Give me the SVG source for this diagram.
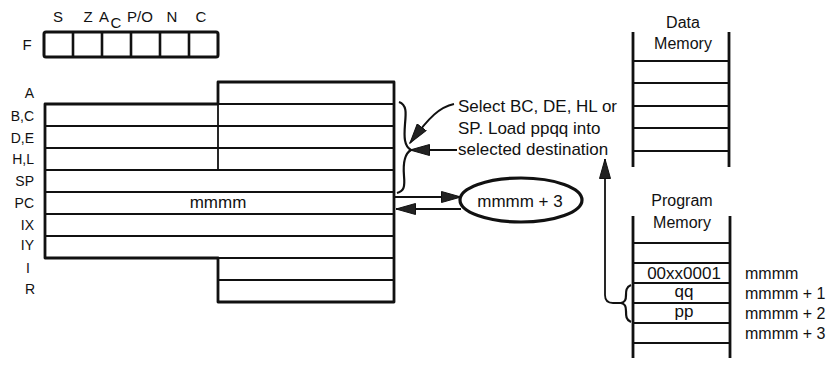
<svg xmlns="http://www.w3.org/2000/svg" width="834" height="369" viewBox="0 0 834 369">
<style>
text{font-family:"Liberation Sans",Arial,Helvetica,sans-serif;fill:#111;font-size:14px}
.r{text-anchor:end}
.m{text-anchor:middle}
.f{font-size:15px}
.mem{font-size:16px}
.big{font-size:17px}
.thick{fill:none;stroke:#111;stroke-width:2.8;stroke-linejoin:round}
.ln{fill:none;stroke:#111;stroke-width:1.8}
.brace{fill:none;stroke:#111;stroke-width:2.2}
.div{fill:none;stroke:#111;stroke-width:2.6}
</style>
<defs>
<marker id="ah" markerWidth="21" markerHeight="12" refX="20" refY="6" orient="auto" markerUnits="userSpaceOnUse">
<path d="M0.5,0.5 L20,6 L0.5,11.5 Z" fill="#222" stroke="#111" stroke-width="1"/>
</marker>
</defs>

<g id="flags">
<text x="58" y="22" class="m f">S</text>
<text x="88" y="22" class="m f">Z</text>
<text x="104" y="22" class="m f">A</text>
<text x="116" y="28" class="m f">C</text>
<text x="140" y="22" class="m f">P/O</text>
<text x="172" y="22" class="m f">N</text>
<text x="201" y="22" class="m f">C</text>
<text x="27" y="50" class="m f">F</text>
<rect x="44" y="32" width="174" height="25" rx="2" fill="#fff" stroke="#111" stroke-width="3"/>
<path class="div" d="M73,32 V57 M102,32 V57 M131,32 V57 M160,32 V57 M189,32 V57"/>
</g>

<g id="registers">
<path class="thick" d="M218,82 H394 V302 H218 V258 H45 V104 H218 Z"/>
<path class="ln" d="M218,82 V170 M45,126 H394 M45,148 H394 M45,170 H394 M45,192 H394 M45,214 H394 M45,236 H394 M218,258 H394 M218,280 H394 M218,104 H394"/>
<text x="34" y="98" class="r">A</text>
<text x="34" y="121" class="r">B,C</text>
<text x="34" y="143" class="r">D,E</text>
<text x="34" y="164" class="r">H,L</text>
<text x="34" y="186" class="r">SP</text>
<text x="34" y="208" class="r">PC</text>
<text x="34" y="230" class="r">IX</text>
<text x="34" y="250" class="r">IY</text>
<text x="28" y="273" class="m">I</text>
<text x="30" y="294" class="m">R</text>
<text x="218" y="208" class="m big">mmmm</text>
</g>

<g id="note">
<text x="458" y="112" class="big">Select BC, DE, HL or</text>
<text x="458" y="134" class="big">SP. Load ppqq into</text>
<text x="458" y="155" class="big">selected destination</text>
</g>

<g id="pc-next">
<ellipse cx="521" cy="200" rx="61" ry="22" fill="#fff" stroke="#111" stroke-width="3.2"/>
<text x="520" y="207" class="m big">mmmm + 3</text>
</g>

<g id="data-memory">
<text x="683" y="28" class="m mem">Data</text>
<text x="683" y="49" class="m mem">Memory</text>
<path class="thick" d="M633,32 V167 M729,32 V167"/>
<path class="ln" d="M633,61 H729 M633,83 H729 M633,106 H729 M633,128 H729 M633,151 H729"/>
</g>

<g id="program-memory">
<text x="682" y="206" class="m mem">Program</text>
<text x="682" y="228" class="m mem">Memory</text>
<path class="thick" d="M633,216 V358 M730,216 V358"/>
<path class="ln" d="M633,243 H730 M633,263 H730 M633,283 H730 M633,303 H730 M633,323 H730 M633,343 H730"/>
<text x="684" y="279" class="m big">00xx0001</text>
<text x="684" y="297" class="m big">qq</text>
<text x="684" y="317" class="m big">pp</text>
<text x="745" y="279" class="mem">mmmm</text>
<text x="745" y="299" class="mem">mmmm + 1</text>
<text x="745" y="319" class="mem">mmmm + 2</text>
<text x="745" y="339" class="mem">mmmm + 3</text>
</g>

<g id="connectors">
<path class="brace" d="M399,102 C407,105 406,113 405,124 C404,137 404,146 411,150 C404,154 403,164 404,176 C405,187 404,191 397,193"/>
<path class="brace" d="M631,285 C626,287 626,291 626,295 C626,300 625,302 621,303 C625,304 626,306 626,311 C626,316 626,320 631,322"/>
<path class="ln" d="M454,104 C440,107 430,116 410,143" marker-end="url(#ah)"/>
<path class="ln" d="M457,150 H410" marker-end="url(#ah)"/>
<path class="ln" d="M395,197 H461" marker-end="url(#ah)"/>
<path class="ln" d="M461,209 H396" marker-end="url(#ah)"/>
<path class="ln" d="M621,303 H613 Q605,303 605,295 V159" marker-end="url(#ah)"/>
</g>
</svg>
